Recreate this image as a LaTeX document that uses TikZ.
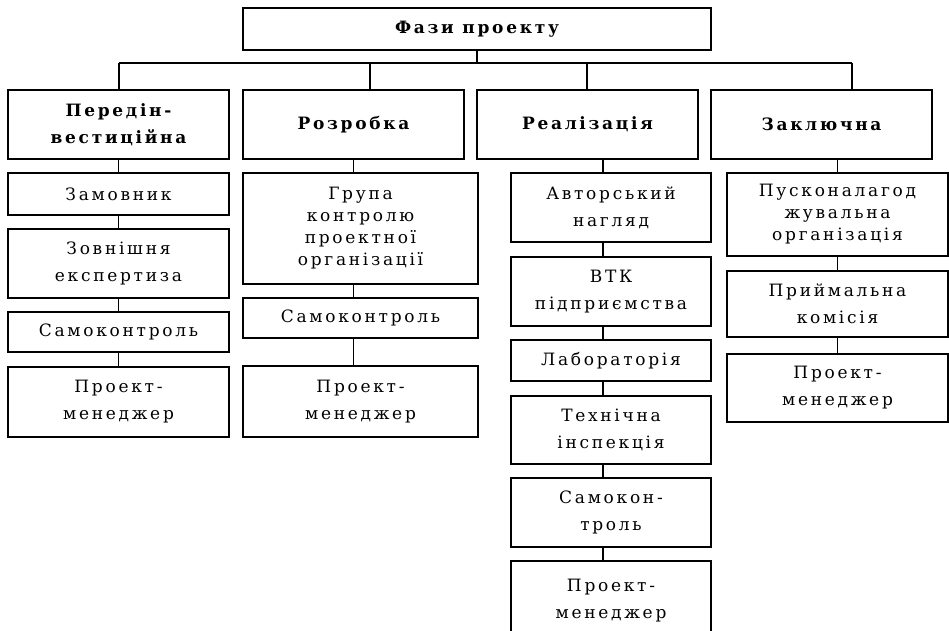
\documentclass[tikz,border=0pt]{standalone}
\usepackage{fontspec}
\setmainfont{DejaVu Serif}[LetterSpace=16]
\begin{document}
\begin{tikzpicture}[x=1pt,y=-1pt,
  box/.style={draw, line width=1.6pt, align=center, inner sep=0pt,
    font=\fontsize{17}{27}\selectfont},
  dense/.style={font=\fontsize{17}{22}\selectfont},
  head/.style={box, font=\bfseries\fontsize{17}{27}\selectfont},
  link/.style={line width=1.6pt}]
\useasboundingbox (0,0) rectangle (949,630);

% root
\node[head, minimum width=468pt, minimum height=42pt] (top) at (477,29) {Фази проекту};

% phases
\node[head, minimum width=221pt, minimum height=69pt] (p1) at (118.5,124.5) {Передін-\\вестиційна};
\node[head, minimum width=221pt, minimum height=69pt] (p2) at (353.5,124.5) {Розробка};
\node[head, minimum width=221pt, minimum height=69pt] (p3) at (587.5,124.5) {Реалізація};
\node[head, minimum width=221pt, minimum height=69pt] (p4) at (821.5,124.5) {Заключна};

% column 1
\node[box, minimum width=221pt, minimum height=42pt] (c1a) at (118.5,194) {Замовник};
\node[box, minimum width=221pt, minimum height=69pt] (c1b) at (118.5,263.5) {Зовнішня\\експертиза};
\node[box, minimum width=221pt, minimum height=40pt] (c1c) at (118.5,332) {Самоконтроль};
\node[box, minimum width=221pt, minimum height=70pt] (c1d) at (118.5,402) {Проект-\\менеджер};

% column 2
\node[box, dense, minimum width=235pt, minimum height=111pt] (c2a) at (360.5,228.5) {Група\\контролю\\проектної\\організації};
\node[box, minimum width=235pt, minimum height=40pt] (c2b) at (360.5,318) {Самоконтроль};
\node[box, minimum width=235pt, minimum height=71pt] (c2c) at (360.5,401.5) {Проект-\\менеджер};

% column 3
\node[box, minimum width=200pt, minimum height=69pt] (c3a) at (611,207.5) {Авторський\\нагляд};
\node[box, minimum width=200pt, minimum height=69pt] (c3b) at (611,291.5) {ВТК\\підприємства};
\node[box, minimum width=200pt, minimum height=41pt] (c3c) at (611,360.5) {Лабораторія};
\node[box, minimum width=200pt, minimum height=68pt] (c3d) at (611,430) {Технічна\\інспекція};
\node[box, minimum width=200pt, minimum height=69pt] (c3e) at (611,512.5) {Самокон-\\троль};
\node[box, minimum width=200pt, minimum height=80pt] (c3f) at (611,601) {Проект-\\менеджер};

% column 4
\node[box, dense, minimum width=221pt, minimum height=83pt] (c4a) at (837.5,214.5) {Пусконалагод\\жувальна\\організація};
\node[box, minimum width=221pt, minimum height=66pt] (c4b) at (837.5,304) {Приймальна\\комісія};
\node[box, minimum width=221pt, minimum height=68pt] (c4c) at (837.5,388) {Проект-\\менеджер};

% bus from the root to the phases
\coordinate (d1) at (119,63);
\coordinate (d2) at (370,63);
\coordinate (d3) at (587,63);
\coordinate (d4) at (852,63);
\draw[link] (top.south) -- (top.south |- d1);
\draw[link] (d1) -- (d4);
\draw[link] (d1) -- (d1 |- p1.north);
\draw[link] (d2) -- (d2 |- p2.north);
\draw[link] (d3) -- (d3 |- p3.north);
\draw[link] (d4) -- (d4 |- p4.north);

% column 1 chain
\draw[link] (p1.south) -- (c1a.north);
\draw[link] (c1a.south) -- (c1b.north);
\draw[link] (c1b.south) -- (c1c.north);
\draw[link] (c1c.south) -- (c1d.north);

% column 2 chain
\draw[link] (p2.south) -- (p2.south |- c2a.north);
\draw[link] (c2a.south -| p2.south) -- (c2b.north -| p2.south);
\draw[link] (c2b.south -| p2.south) -- (c2c.north -| p2.south);

% column 3 chain
\coordinate (k3) at (603,0);
\draw[link] (p3.south -| k3) -- (c3a.north -| k3);
\draw[link] (c3a.south -| k3) -- (c3b.north -| k3);
\draw[link] (c3b.south -| k3) -- (c3c.north -| k3);
\draw[link] (c3c.south -| k3) -- (c3d.north -| k3);
\draw[link] (c3d.south -| k3) -- (c3e.north -| k3);
\draw[link] (c3e.south -| k3) -- (c3f.north -| k3);

% column 4 chain
\draw[link] (p4.south -| c4a.north) -- (c4a.north);
\draw[link] (c4a.south) -- (c4b.north);
\draw[link] (c4b.south) -- (c4c.north);
\end{tikzpicture}
\end{document}
